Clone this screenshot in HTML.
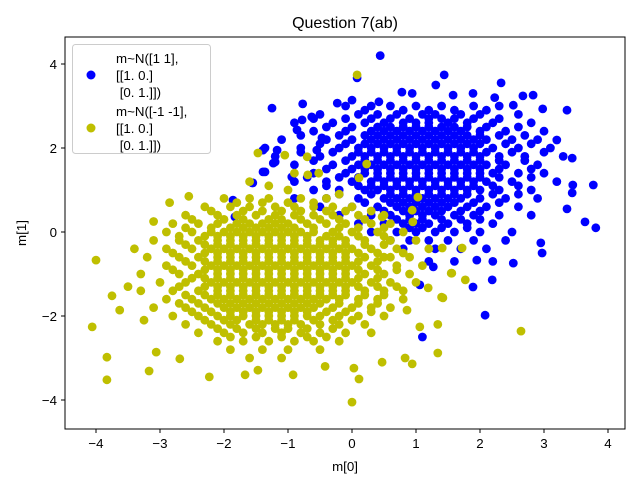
<!DOCTYPE html>
<html><head><meta charset="utf-8"><style>
html,body{margin:0;padding:0;background:#fff;}
svg{display:block;font-family:"Liberation Sans","DejaVu Sans",sans-serif;}
</style></head><body>
<svg id="chart" width="640" height="480" viewBox="0 0 640 480">
<rect width="640" height="480" fill="#fff"/>
<g id="marks"></g>
<rect x="65" y="37" width="560" height="392" fill="none" stroke="#000" stroke-width="1"/>
<g id="ticks"></g>
<text x="345" y="28" text-anchor="middle" font-size="16">Question 7(ab)</text>
<text x="345" y="471" text-anchor="middle" font-size="13.3">m[0]</text>
<text x="26" y="233" text-anchor="middle" font-size="13.3" transform="rotate(-90 26 233)">m[1]</text>
<g>
<rect x="72.5" y="44.5" width="138" height="109" rx="3" fill="#fff" fill-opacity="0.8" stroke="#ccc"/>
<circle cx="91" cy="75" r="4.5" fill="#0000ff"/>
<circle cx="91" cy="128" r="4.5" fill="#bfbf00"/>
<g font-size="13.3">
<text x="116" y="63">m~N([1 1],</text><text x="116" y="80">[[1. 0.]</text><text x="116" y="97" xml:space="preserve"> [0. 1.]])</text></g>
<g font-size="13.3">
<text x="116" y="116">m~N([-1 -1],</text><text x="116" y="133">[[1. 0.]</text><text x="116" y="150" xml:space="preserve"> [0. 1.]])</text></g>
</g>
</svg>
<script>
const xTicks=[-4,-3,-2,-1,0,1,2,3,4];
const yTicks=[-4,-2,0,2,4];
const blueRows=[
[3.0,[-0.1,0.3,0.6,1.0,1.4,1.9,2.3]],
[2.8,[-0.5,0.1,0.4,0.7,1.1,1.3,1.7,2.0,2.6]],
[2.6,[-0.9,-0.3,0.2,0.5,0.8,1.0,1.2,1.5,1.8,2.2,2.8]],
[2.4,[-0.6,-0.1,0.3,0.5,0.7,0.9,1.1,1.3,1.5,1.7,2.0,2.4,3.0]],
[2.2,[-1.1,-0.4,0.0,0.3,0.5,0.7,0.9,1.1,1.3,1.5,1.7,1.9,2.1,2.5,2.9]],
[2.0,[-0.8,-0.2,0.1,0.3,0.5,0.7,0.9,1.1,1.3,1.5,1.7,1.9,2.2,2.6,3.1]],
[1.8,[-1.2,-0.5,0.0,0.2,0.4,0.6,0.8,1.0,1.2,1.4,1.6,1.8,2.0,2.3,2.7,3.3]],
[1.6,[-0.9,-0.3,0.1,0.3,0.5,0.7,0.9,1.1,1.3,1.5,1.7,1.9,2.1,2.4,2.9]],
[1.4,[-0.6,-0.1,0.2,0.4,0.6,0.8,1.0,1.2,1.4,1.6,1.8,2.0,2.2,2.6,3.0]],
[1.2,[-0.9,-0.4,0.0,0.3,0.5,0.7,0.9,1.1,1.3,1.5,1.7,1.9,2.1,2.5,3.2]],
[1.0,[-0.6,-0.2,0.2,0.4,0.6,0.8,1.0,1.2,1.4,1.6,1.8,2.0,2.3,2.8]],
[0.8,[-0.9,-0.4,0.1,0.5,0.7,0.9,1.1,1.3,1.5,1.7,2.0,2.4,2.9]],
[0.6,[-0.5,0.0,0.4,0.7,0.9,1.1,1.3,1.5,1.8,2.1,2.6]],
[0.4,[-0.2,0.3,0.6,0.9,1.1,1.3,1.6,1.9,2.3,2.8]],
[0.2,[0.1,0.5,0.8,1.0,1.2,1.5,1.8,2.2]],
[0.0,[0.3,0.7,1.0,1.3,1.6,2.0,2.5]],
[-0.2,[0.6,0.9,1.2,1.5,1.9,2.4]],
[-0.4,[0.8,1.3,1.7,2.1]],
[-0.7,[1.2,1.6,2.2]]
];
const blueCoreRows=[
[2.9,[0.2,0.8,1.2,1.6,2.1]],
[2.7,[-0.6,-0.1,0.3,0.6,0.9,1.2,1.4,1.6,1.9,2.3]],
[2.5,[-0.4,0.0,0.4,0.6,0.8,1.0,1.2,1.4,1.6,1.8,2.1,2.6]],
[2.3,[-0.8,-0.2,0.2,0.4,0.6,0.8,1.0,1.2,1.4,1.6,1.8,2.0,2.3,2.7]],
[2.1,[-0.5,-0.1,0.2,0.4,0.6,0.8,1.0,1.2,1.4,1.6,1.8,2.0,2.4,2.8]],
[1.9,[-0.8,-0.3,0.1,0.3,0.5,0.7,0.9,1.1,1.3,1.5,1.7,1.9,2.1,2.5,3.0]],
[1.7,[-0.6,-0.1,0.2,0.4,0.6,0.8,1.0,1.2,1.4,1.6,1.8,2.0,2.3,2.7]],
[1.5,[-0.4,0.0,0.2,0.4,0.6,0.8,1.0,1.2,1.4,1.6,1.8,2.0,2.3,2.8]],
[1.3,[-0.7,-0.2,0.1,0.4,0.6,0.8,1.0,1.2,1.4,1.6,1.8,2.0,2.3,2.8]],
[1.1,[-0.4,0.1,0.3,0.5,0.7,0.9,1.1,1.3,1.5,1.7,1.9,2.2,2.6]],
[0.9,[-0.2,0.3,0.6,0.8,1.0,1.2,1.4,1.6,1.8,2.2,2.6]],
[0.7,[0.2,0.6,0.8,1.0,1.2,1.4,1.6,1.9,2.3]],
[0.5,[0.5,0.8,1.0,1.2,1.4,1.7,2.0]],
[0.3,[0.7,0.9,1.1,1.4,1.7,2.0]],
[0.1,[0.9,1.1,1.4,1.8]]
];
const blueExtra=[[0.44,4.2],[1.44,3.74],[1.31,3.5],[2.33,3.55],[0.08,3.67],[0.78,3.33],[0.94,3.3],[-1.25,2.95],[-0.77,3.05],[-0.23,3.07],[0.0,3.14],[0.42,3.1],[1.58,3.26],[1.89,3.3],[2.67,3.24],[2.83,3.26],[3.36,2.9],[2.98,2.93],[2.52,3.02],[2.23,3.2],[3.77,1.12],[3.81,0.1],[3.64,0.24],[3.36,0.55],[3.44,0.93],[3.45,1.12],[3.44,1.76],[3.2,2.19],[2.95,-0.26],[2.97,-0.5],[2.52,-0.74],[2.08,-1.98],[1.89,-1.31],[2.19,-1.14],[1.95,-0.67],[1.27,-0.83],[1.06,-1.26],[1.1,-2.5],[-1.39,1.95],[-1.55,1.17],[-1.36,1.43],[-1.23,1.64],[-0.94,1.31],[-0.86,2.43],[-0.78,2.67],[-0.63,2.74],[-0.47,2.24],[-0.55,1.95],[-1.36,2.0],[-1.17,1.95],[-1.2,1.67],[-1.39,1.43],[-1.56,1.17],[-1.86,0.76],[-1.83,0.36]];
const yellowRows=[
[0.8,[-2.0,-1.6,-1.3,-0.8,-0.4]],
[0.6,[-2.3,-1.9,-1.6,-1.2,-0.9,-0.6,-0.3,0.0]],
[0.4,[-2.6,-2.1,-1.8,-1.5,-1.2,-0.9,-0.6,-0.3,0.1,0.5]],
[0.2,[-2.8,-2.4,-2.1,-1.8,-1.6,-1.4,-1.2,-1.0,-0.7,-0.4,-0.1,0.3,0.6]],
[0.0,[-2.9,-2.5,-2.2,-2.0,-1.8,-1.6,-1.4,-1.2,-1.0,-0.8,-0.6,-0.3,0.0,0.4,0.8]],
[-0.2,[-3.1,-2.7,-2.4,-2.1,-1.9,-1.7,-1.5,-1.3,-1.1,-0.9,-0.7,-0.5,-0.3,-0.1,0.2,0.6,1.0]],
[-0.4,[-2.9,-2.5,-2.2,-2.0,-1.8,-1.6,-1.4,-1.2,-1.0,-0.8,-0.6,-0.4,-0.2,0.0,0.3,0.7,1.2]],
[-0.6,[-3.2,-2.7,-2.4,-2.1,-1.9,-1.7,-1.5,-1.3,-1.1,-0.9,-0.7,-0.5,-0.3,-0.1,0.2,0.5,0.9]],
[-0.8,[-2.9,-2.5,-2.2,-2.0,-1.8,-1.6,-1.4,-1.2,-1.0,-0.8,-0.6,-0.4,-0.2,0.0,0.3,0.7,1.1]],
[-1.0,[-3.3,-2.7,-2.4,-2.1,-1.9,-1.7,-1.5,-1.3,-1.1,-0.9,-0.7,-0.5,-0.3,-0.1,0.2,0.5,0.9]],
[-1.2,[-3.0,-2.6,-2.2,-2.0,-1.8,-1.6,-1.4,-1.2,-1.0,-0.8,-0.6,-0.4,-0.2,0.0,0.3,0.6,1.0]],
[-1.4,[-3.3,-2.8,-2.4,-2.1,-1.9,-1.7,-1.5,-1.3,-1.1,-0.9,-0.7,-0.5,-0.3,-0.1,0.2,0.5,0.8]],
[-1.6,[-2.9,-2.5,-2.2,-2.0,-1.8,-1.6,-1.4,-1.2,-1.0,-0.8,-0.6,-0.4,-0.2,0.1,0.4,0.8]],
[-1.8,[-3.1,-2.6,-2.3,-2.0,-1.8,-1.6,-1.4,-1.2,-1.0,-0.8,-0.6,-0.3,0.0,0.3,0.6]],
[-2.0,[-2.8,-2.4,-2.1,-1.9,-1.7,-1.5,-1.3,-1.1,-0.9,-0.7,-0.5,-0.2,0.1,0.5]],
[-2.2,[-2.6,-2.2,-1.9,-1.6,-1.4,-1.2,-1.0,-0.8,-0.5,-0.2,0.2]],
[-2.4,[-2.4,-2.0,-1.7,-1.4,-1.1,-0.8,-0.5,-0.1,0.3]],
[-2.6,[-2.1,-1.7,-1.3,-0.9,-0.6,-0.2]],
[-2.8,[-1.9,-1.4,-1.0,-0.5]],
[-3.0,[-1.6,-1.1]]
];
const yellowCoreRows=[
[0.7,[-1.8,-1.4,-1.0,-0.6]],
[0.5,[-2.2,-1.7,-1.4,-1.1,-0.8,-0.4,-0.1,0.3]],
[0.3,[-2.5,-2.0,-1.7,-1.3,-1.1,-0.8,-0.5,-0.2,0.2]],
[0.1,[-2.6,-2.2,-1.9,-1.7,-1.5,-1.3,-1.1,-0.9,-0.6,-0.2,0.1,0.5]],
[-0.1,[-2.7,-2.3,-2.1,-1.9,-1.7,-1.5,-1.3,-1.1,-0.9,-0.7,-0.4,-0.2,0.1,0.5]],
[-0.3,[-2.6,-2.3,-2.1,-1.9,-1.7,-1.5,-1.3,-1.1,-0.9,-0.7,-0.5,-0.3,-0.1,0.2,0.5]],
[-0.5,[-2.8,-2.3,-2.1,-1.9,-1.7,-1.5,-1.3,-1.1,-0.9,-0.7,-0.5,-0.3,-0.1,0.1,0.4,0.8]],
[-0.7,[-2.6,-2.3,-2.1,-1.9,-1.7,-1.5,-1.3,-1.1,-0.9,-0.7,-0.5,-0.3,-0.1,0.1,0.4]],
[-0.9,[-2.8,-2.3,-2.1,-1.9,-1.7,-1.5,-1.3,-1.1,-0.9,-0.7,-0.5,-0.3,-0.1,0.1,0.4,0.7]],
[-1.1,[-2.5,-2.3,-2.1,-1.9,-1.7,-1.5,-1.3,-1.1,-0.9,-0.7,-0.5,-0.3,-0.1,0.1,0.4]],
[-1.3,[-2.7,-2.3,-2.1,-1.9,-1.7,-1.5,-1.3,-1.1,-0.9,-0.7,-0.5,-0.3,-0.1,0.1,0.4,0.7]],
[-1.5,[-2.6,-2.3,-2.1,-1.9,-1.7,-1.5,-1.3,-1.1,-0.9,-0.7,-0.5,-0.3,-0.1,0.2,0.5]],
[-1.7,[-2.7,-2.4,-2.1,-1.9,-1.7,-1.5,-1.3,-1.1,-0.9,-0.7,-0.5,-0.2,0.1,0.4]],
[-1.9,[-2.5,-2.2,-1.9,-1.7,-1.5,-1.3,-1.1,-0.9,-0.7,-0.4,-0.1,0.3]],
[-2.1,[-2.3,-2.0,-1.8,-1.5,-1.3,-1.1,-0.9,-0.6,-0.3,0.0]],
[-2.3,[-2.1,-1.8,-1.5,-1.2,-1.0,-0.7,-0.3]],
[-2.5,[-1.9,-1.5,-1.1,-0.7,-0.4]]
];
const yellowExtra=[[-4.0,-0.67],[-4.06,-2.26],[-3.83,-3.52],[-3.75,-1.52],[-3.63,-1.86],[-3.83,-2.98],[-3.17,-3.31],[-3.25,-2.1],[-3.06,-2.86],[-2.69,-3.02],[-2.23,-3.45],[-1.67,-3.4],[-1.47,-3.29],[-0.92,-3.4],[-0.42,-3.2],[0.03,-3.24],[0.11,-3.5],[0.0,-4.05],[0.47,-3.1],[0.94,-3.14],[1.34,-2.88],[0.83,-3.0],[0.86,-1.86],[1.06,-2.26],[1.34,-2.2],[1.4,-1.55],[1.56,-0.98],[2.64,-2.36],[1.77,-1.14],[1.42,-1.57],[1.19,-1.33],[1.55,-0.98],[1.72,-0.38],[1.41,-0.38],[1.03,0.83],[0.94,0.52],[0.95,0.24],[0.47,0.36],[0.23,1.62],[0.08,3.74],[0.11,1.29],[-0.7,1.79],[-1.05,1.83],[-1.47,1.88],[-0.9,1.4],[-0.69,1.36],[-0.52,1.4],[-1.0,1.0],[-3.1,0.25],[-2.85,0.7],[-2.55,0.85],[-3.4,-0.4],[-3.5,-1.3],[-1.3,1.1],[-1.6,1.2],[-0.2,0.9],[0.6,-0.6]];

const SVGNS="http://www.w3.org/2000/svg";
const X0=352,XU=64,Y0=232,YU=42;
function sx(v){return X0+v*XU;}
function sy(v){return Y0-v*YU;}
const marks=document.getElementById('marks');
function dot(x,y,color,name){
  const c=document.createElementNS(SVGNS,'circle');
  c.setAttribute('cx',sx(x).toFixed(1));
  c.setAttribute('cy',sy(y).toFixed(1));
  c.setAttribute('r','4.4');
  c.setAttribute('fill',color);
  
  
  marks.appendChild(c);
}
blueRows.forEach(r=>r[1].forEach(x=>dot(x,r[0],'#0000ff','blue-point')));
blueCoreRows.forEach(r=>r[1].forEach(x=>dot(x,r[0],'#0000ff','blue-point')));
blueExtra.forEach(p=>dot(p[0],p[1],'#0000ff','blue-point'));
yellowRows.forEach(r=>r[1].forEach(x=>dot(x,r[0],'#bfbf00','yellow-point')));
yellowCoreRows.forEach(r=>r[1].forEach(x=>dot(x,r[0],'#bfbf00','yellow-point')));
yellowExtra.forEach(p=>dot(p[0],p[1],'#bfbf00','yellow-point'));

const tg=document.getElementById('ticks');
xTicks.forEach(v=>{
  const l=document.createElementNS(SVGNS,'line');
  l.setAttribute('x1',sx(v));l.setAttribute('x2',sx(v));
  l.setAttribute('y1',429);l.setAttribute('y2',433);
  l.setAttribute('stroke','#000');
  
  
  tg.appendChild(l);
  const t=document.createElementNS(SVGNS,'text');
  t.setAttribute('x',sx(v));t.setAttribute('y',448);
  t.setAttribute('text-anchor','middle');t.setAttribute('font-size','13.3');
  t.textContent=(v<0?'\u2212'+(-v):String(v));
  
  
  tg.appendChild(t);
});
yTicks.forEach(v=>{
  const l=document.createElementNS(SVGNS,'line');
  l.setAttribute('x1',61);l.setAttribute('x2',65);
  l.setAttribute('y1',sy(v));l.setAttribute('y2',sy(v));
  l.setAttribute('stroke','#000');
  
  
  tg.appendChild(l);
  const t=document.createElementNS(SVGNS,'text');
  t.setAttribute('x',57);t.setAttribute('y',sy(v)+5);
  t.setAttribute('text-anchor','end');t.setAttribute('font-size','13.3');
  t.textContent=(v<0?'\u2212'+(-v):String(v));
  
  
  tg.appendChild(t);
});
</script>
</body></html>
